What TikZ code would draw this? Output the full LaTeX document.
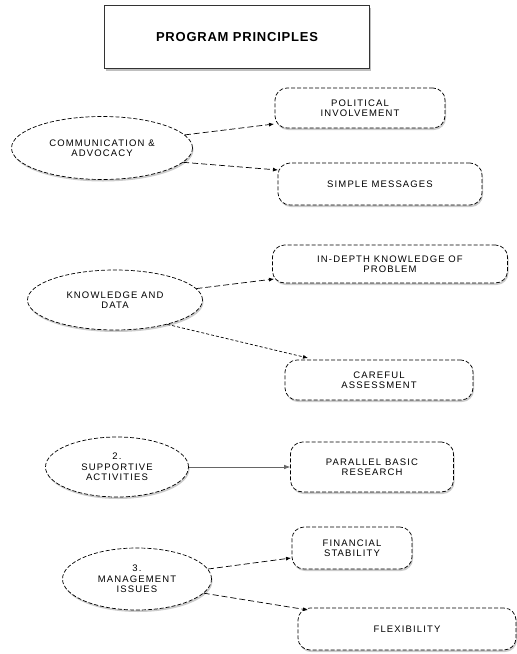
\documentclass[tikz,border=0pt]{standalone}
\usepackage{fontspec}
\setmainfont{Liberation Sans}
\newfontfamily\lbl[LetterSpace=12]{Liberation Sans}
\newfontfamily\ttl[LetterSpace=6]{Liberation Sans}
\usetikzlibrary{shapes.geometric,shadows,arrows.meta}
\begin{document}
\begin{tikzpicture}[x=1pt,y=-1pt,
  outl/.style={draw=black, dash pattern=on 4pt off 2pt, line width=0.7pt, fill=white,
    drop shadow={shadow xshift=1pt, shadow yshift=-2pt, opacity=0.4}},
  ell/.style={outl, ellipse, inner sep=0pt, align=center, font=\lbl\fontsize{9.5}{10.5}\selectfont},
  rbox/.style={outl, rounded corners=12pt, inner sep=0pt, align=center, font=\lbl\fontsize{9.5}{10.5}\selectfont},
  conn/.style={draw=black, line width=0.7pt, dash pattern=on 6pt off 3pt, -{Latex[length=5pt,width=4pt]}},
  solidconn/.style={draw=black!60, line width=0.6pt, -{Latex[length=6pt,width=4.5pt]}}]
\useasboundingbox (0,0) rectangle (517,654);

\node[draw=black!80, line width=0.7pt, fill=white, minimum width=265pt, minimum height=63pt,
  drop shadow={shadow xshift=1pt, shadow yshift=-2pt, opacity=0.5},
  font=\ttl\bfseries\fontsize{13}{15}\selectfont] (title) at (237,37) {PROGRAM PRINCIPLES};

\node[ell, minimum width=181pt, minimum height=63pt] (ca) at (102,148) {COMMUNICATION \&\\ADVOCACY};
\node[rbox, minimum width=170pt, minimum height=40pt] (pi) at (360,108) {POLITICAL\\INVOLVEMENT};
\node[rbox, minimum width=204pt, minimum height=42pt] (sm) at (380,184) {SIMPLE MESSAGES};

\node[ell, minimum width=175pt, minimum height=60pt] (kd) at (115,300) {KNOWLEDGE AND\\DATA};
\node[rbox, minimum width=235pt, minimum height=38pt] (ik) at (390,264) {IN-DEPTH KNOWLEDGE OF\\PROBLEM};
\node[rbox, minimum width=188pt, minimum height=40pt] (cas) at (379,380) {CAREFUL\\ASSESSMENT};

\node[ell, minimum width=143pt, minimum height=60pt] (sa) at (117,467) {2.\\SUPPORTIVE\\ACTIVITIES};
\node[rbox, minimum width=163pt, minimum height=50pt] (pb) at (372,467) {PARALLEL BASIC\\RESEARCH};

\node[ell, minimum width=149pt, minimum height=62pt] (mi) at (137,579) {3.\\MANAGEMENT\\ISSUES};
\node[rbox, minimum width=120pt, minimum height=42pt] (fs) at (352,548) {FINANCIAL\\STABILITY};
\node[rbox, minimum width=218pt, minimum height=42pt] (fl) at (407,629) {FLEXIBILITY};

\coordinate (e1) at (274,124);
\coordinate (e2) at (278,170);
\coordinate (e3) at (274,279);
\coordinate (e4) at (308,358);
\coordinate (e5) at (291,558);
\coordinate (e6) at (308,610);

\draw[conn] (ca.9) -- (e1);
\draw[conn] (ca.-10) -- (e2);
\draw[conn] (kd.8) -- (e3);
\draw[conn, dash pattern=on 3pt off 2pt] (kd.-25) -- (e4);
\draw[solidconn] (sa) -- (pb);
\draw[conn] (mi.8) -- (e5);
\draw[conn] (mi.-12) -- (e6);
\end{tikzpicture}
\end{document}
